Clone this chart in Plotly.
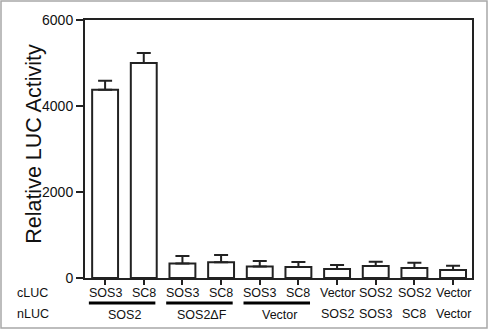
import plotly.graph_objects as go

# ---- data ----
cluc = ["SOS3", "SC8", "SOS3", "SC8", "SOS3", "SC8", "Vector", "SOS2", "SOS2", "Vector"]
nluc_groups = ["SOS2", "SOS2\u0394F", "Vector"]          # groups spanning two bars
nluc_group_members = [[0, 1], [2, 3], [4, 5]]
nluc_single = ["SOS2", "SOS3", "SC8", "Vector"]           # bars 7..10
nluc_single_index = [6, 7, 8, 9]
values = [4380, 5000, 340, 365, 270, 255, 210, 280, 235, 185]
errors = [210, 235, 170, 170, 125, 115, 90, 100, 120, 100]
y_ticks = [0, 2000, 4000, 6000]
y_title = "Relative LUC Activity"

FONT = "Liberation Sans, Arial, sans-serif"
NARROW = "Liberation Sans Narrow, Arial Narrow, Liberation Sans, sans-serif"
INK = "#111111"

x = list(range(len(values)))

fig = go.Figure()
fig.add_trace(go.Bar(
    x=x, y=values,
    width=0.67,
    marker=dict(color="white", line=dict(color="#222222", width=2)),
    error_y=dict(type="data", symmetric=False, array=errors,
                 arrayminus=[0] * len(errors),
                 color="#222222", thickness=2, width=7),
    showlegend=False,
))

lab_font = dict(family=NARROW, size=12.5, color=INK)
annotations = []
shapes = []
# y-axis title
annotations.append(dict(text=y_title, xref="paper", yref="paper", x=-51 / 387, y=0.52,
                        xanchor="center", yanchor="middle", textangle=-90, showarrow=False,
                        font=dict(family=FONT, size=21.5, color=INK)))
# row labels
annotations.append(dict(text="cLUC", xref="paper", yref="paper", x=-70 / 387, y=0,
                        yshift=-15, xanchor="left", yanchor="middle", showarrow=False,
                        font=lab_font))
annotations.append(dict(text="nLUC", xref="paper", yref="paper", x=-70 / 387, y=0,
                        yshift=-36, xanchor="left", yanchor="middle", showarrow=False,
                        font=lab_font))
# cLUC labels
for i, lab in enumerate(cluc):
    annotations.append(dict(text=lab, xref="x", yref="paper", x=i, y=0, yshift=-15,
                            yanchor="middle", showarrow=False, font=lab_font))
# nLUC grouped labels with underline
for lab, mem in zip(nluc_groups, nluc_group_members):
    c = (mem[0] + mem[-1]) / 2
    annotations.append(dict(text=lab, xref="x", yref="paper", x=c, y=0, yshift=-37,
                            yanchor="middle", showarrow=False, font=lab_font))
    shapes.append(dict(type="line", xref="x", yref="paper",
                       x0=mem[0] - 0.42, x1=mem[-1] + 0.3,
                       y0=-25 / 258, y1=-25 / 258, line=dict(color="black", width=3)))
for lab, i in zip(nluc_single, nluc_single_index):
    annotations.append(dict(text=lab, xref="x", yref="paper", x=i, y=0, yshift=-36,
                            yanchor="middle", showarrow=False, font=lab_font))

# outer gray frame
shapes.append(dict(type="rect", xref="paper", yref="paper", layer="below",
                   x0=-84 / 387, x1=1 + 15 / 387, y0=-50 / 258, y1=1 + 19 / 258,
                   line=dict(color="#a8a8a8", width=1.5)))

fig.update_layout(
    width=488, height=333,
    margin=dict(l=85, r=16, t=20, b=55),
    paper_bgcolor="white", plot_bgcolor="white",
    font=dict(family=FONT, color=INK),
    annotations=annotations,
    shapes=shapes,
)
fig.update_xaxes(
    range=[-0.52, 9.49], tickvals=x, ticktext=[""] * len(x),
    ticks="outside", ticklen=5, tickwidth=1.5, tickcolor="#222222",
    showline=True, linecolor="#222222", linewidth=2, mirror=True,
    showgrid=False, zeroline=False, automargin=False,
)
fig.update_yaxes(
    range=[0, 6000], tickvals=y_ticks,
    ticks="outside", ticklen=7, tickwidth=1.5, tickcolor="#222222",
    tickfont=dict(family=FONT, size=14, color=INK),
    showline=True, linecolor="#222222", linewidth=2, mirror=True,
    showgrid=False, zeroline=False, automargin=False,
)

fig.write_html(
    "out.html",
    config={"displayModeBar": False},
    post_script="document.body.style.margin='0';document.body.style.padding='0';",
)
